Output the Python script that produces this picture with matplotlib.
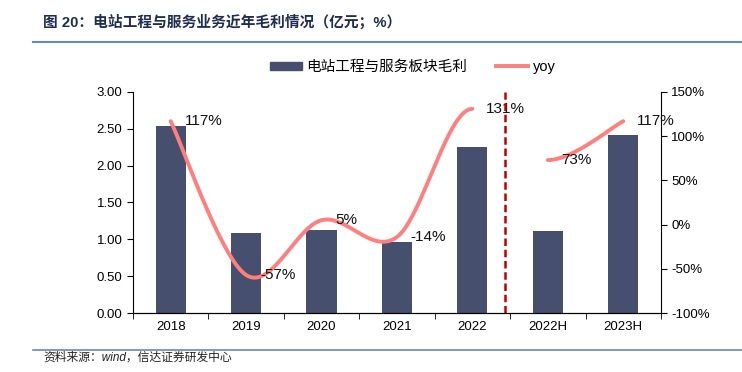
"""Gross profit of power-station engineering & services, with yoy curve."""

import numpy as np
import matplotlib
matplotlib.use("Agg")
from matplotlib import pyplot as plt
from matplotlib.lines import Line2D
from matplotlib.patches import Patch

plt.rcParams["font.family"] = ["Liberation Sans", "Noto Sans CJK SC", "DejaVu Sans"]

categories = ["2018", "2019", "2020", "2021", "2022", "2022H", "2023H"]
gross_profit = [2.54, 1.08, 1.12, 0.97, 2.26, 1.11, 2.42]
yoy_annual = [117, -57, 5, -14, 131]
yoy_half = [73, 117]

left_ticks = [0.0, 0.5, 1.0, 1.5, 2.0, 2.5, 3.0]
right_ticks = [-100, -50, 0, 50, 100, 150]

BAR_COLOR = "#464F6E"
LINE_COLOR = "#FF7F7F"
TITLE_COLOR = "#1F2D50"
RULE_COLOR = "#6A88B2"


def smooth(xs, ys, flat_start=False, flat_end=False, steps=40):
    """Bezier smoothing through the points, roughly like Excel's smoothed line."""
    pts = np.column_stack([np.asarray(xs, float), np.asarray(ys, float)])
    first, last = pts[0].copy(), pts[-1].copy()
    if flat_start:
        first = np.array([2 * pts[0, 0] - pts[1, 0], pts[1, 1]])
    if flat_end:
        last = np.array([2 * pts[-1, 0] - pts[-2, 0], pts[-2, 1]])
    ext = np.vstack([first, pts, last])
    out = []
    for i in range(1, len(ext) - 2):
        p0, p1, p2, p3 = ext[i - 1], ext[i], ext[i + 1], ext[i + 2]
        c1 = p1 + (p2 - p0) / 6
        c2 = p2 - (p3 - p1) / 6
        t = np.linspace(0, 1, steps)[:, None]
        seg = ((1 - t) ** 3) * p1 + 3 * ((1 - t) ** 2) * t * c1 \
            + 3 * (1 - t) * t ** 2 * c2 + t ** 3 * p2
        out.append(seg if i == 1 else seg[1:])
    out = np.vstack(out)
    return out[:, 0], out[:, 1]


fig = plt.figure(figsize=(7.42, 3.72), dpi=100)
ax = fig.add_axes([0.1792, 0.1586, 0.7116, 0.5941])
ax2 = ax.twinx()

x = np.arange(len(categories))
ax.bar(x, gross_profit, width=0.4, color=BAR_COLOR, zorder=2)
ax.set_xlim(-0.5, len(categories) - 0.5)
ax.set_ylim(0, 3)
ax.set_yticks(left_ticks)
ax.set_yticklabels([f"{v:.2f}" for v in left_ticks], fontsize=9.5)
ax.set_xticks(x)
ax.set_xticklabels(categories, fontsize=9.5)
ax.set_xticks(np.arange(len(categories) + 1) - 0.5, minor=True)
ax.tick_params(axis="x", which="major", length=0, pad=6)
ax.tick_params(axis="x", which="minor", length=4, direction="out")
ax.tick_params(axis="y", length=4, direction="out")
for side in ("top", "right"):
    ax.spines[side].set_visible(False)

# yoy lines (break between annual and half-year data)
x_ann = x[: len(yoy_annual)]
x_half = x[len(yoy_annual):]
segments = [(x_ann, yoy_annual, False, True), (x_half, yoy_half, True, False)]
for xs, ys, fs, fe in segments:
    sx, sy = smooth(xs, ys, flat_start=fs, flat_end=fe)
    ax2.plot(sx, sy, color=LINE_COLOR, lw=2.8, solid_capstyle="round", zorder=3)
    for xi, yi in zip(xs, ys):
        ax2.annotate(f"{yi}%", (xi, yi), xytext=(10, 0), textcoords="offset points",
                     ha="left", va="center", fontsize=11, color="#111111")

ax2.set_ylim(-100, 150)
ax2.set_yticks(right_ticks)
ax2.set_yticklabels([f"{v}%" for v in right_ticks], fontsize=9.5)
ax2.tick_params(axis="y", length=4, direction="out")
ax2.spines["top"].set_visible(False)
ax2.spines["left"].set_visible(False)

# divider between annual and half-year
ax2.axvline(4.43, color="#C00000", lw=1.8, ls=(0, (3, 1.5)), zorder=4)

handles = [Patch(color=BAR_COLOR, label="电站工程与服务板块毛利"),
           Line2D([], [], color=LINE_COLOR, lw=2.8, label="yoy")]
ax.legend(handles=handles, loc="center", bbox_to_anchor=(0.53, 1.113), ncol=2,
          frameon=False, fontsize=10.5, handlelength=2.2, columnspacing=2.0,
          handletextpad=0.3, handleheight=0.5)

fig.text(43 / 742, 1 - 22 / 372, "图 20：电站工程与服务业务近年毛利情况（亿元；%）",
         fontsize=10.6, fontweight="bold", color=TITLE_COLOR, va="center")
fig.add_artist(Line2D([33 / 742, 1], [1 - 41.5 / 372] * 2, color=RULE_COLOR, lw=1.5))
fig.add_artist(Line2D([33 / 742, 1], [1 - 350 / 372] * 2, color=RULE_COLOR, lw=1.2))
fig.text(43 / 742, 1 - 358 / 372, "资料来源：wind，信达证券研发中心",
         fontsize=8.5, style="italic", color="#222222", va="center")

fig.savefig("out.png", dpi=100)
